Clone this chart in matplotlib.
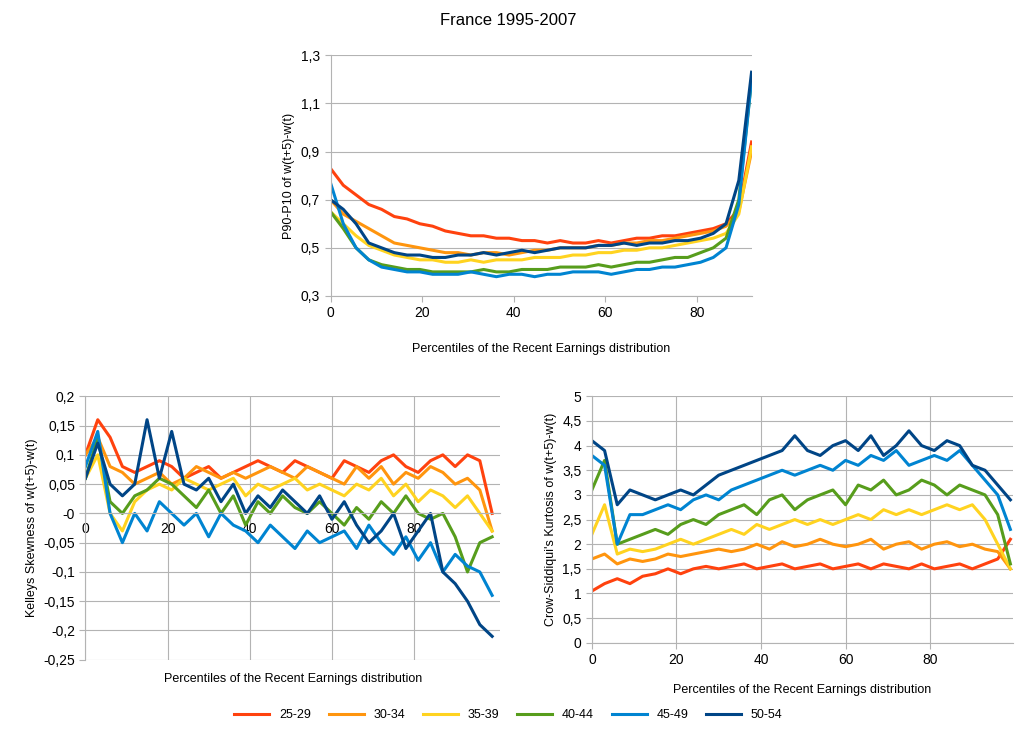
import matplotlib.pyplot as plt
import numpy as np
from matplotlib.ticker import FuncFormatter

plt.rcParams['font.family'] = ['Liberation Sans', 'DejaVu Sans']

groups = ['25-29', '30-34', '35-39', '40-44', '45-49', '50-54']
colors = ['#ff420e', '#ff950e', '#ffd320', '#579d1c', '#0084d1', '#004586']

# top panel: P90-P10 (34 sampled percentiles)
p9010 = [
    [0.83, 0.76, 0.72, 0.68, 0.66, 0.63, 0.62, 0.60, 0.59, 0.57, 0.56, 0.55, 0.55, 0.54, 0.54, 0.53, 0.53, 0.52, 0.53, 0.52, 0.52, 0.53, 0.52, 0.53, 0.54, 0.54, 0.55, 0.55, 0.56, 0.57, 0.58, 0.60, 0.66, 0.94],
    [0.70, 0.64, 0.61, 0.58, 0.55, 0.52, 0.51, 0.50, 0.49, 0.48, 0.48, 0.47, 0.48, 0.48, 0.47, 0.48, 0.49, 0.49, 0.50, 0.50, 0.50, 0.51, 0.51, 0.52, 0.52, 0.53, 0.53, 0.54, 0.55, 0.56, 0.57, 0.59, 0.65, 0.90],
    [0.65, 0.60, 0.55, 0.51, 0.49, 0.47, 0.46, 0.45, 0.45, 0.44, 0.44, 0.45, 0.44, 0.45, 0.45, 0.45, 0.46, 0.46, 0.46, 0.47, 0.47, 0.48, 0.48, 0.49, 0.49, 0.50, 0.50, 0.51, 0.52, 0.53, 0.54, 0.56, 0.64, 0.92],
    [0.65, 0.58, 0.50, 0.45, 0.43, 0.42, 0.41, 0.41, 0.40, 0.40, 0.40, 0.40, 0.41, 0.40, 0.40, 0.41, 0.41, 0.41, 0.42, 0.42, 0.42, 0.43, 0.42, 0.43, 0.44, 0.44, 0.45, 0.46, 0.46, 0.48, 0.50, 0.54, 0.70, 1.20],
    [0.77, 0.60, 0.50, 0.45, 0.42, 0.41, 0.40, 0.40, 0.39, 0.39, 0.39, 0.40, 0.39, 0.38, 0.39, 0.39, 0.38, 0.39, 0.39, 0.40, 0.40, 0.40, 0.39, 0.40, 0.41, 0.41, 0.42, 0.42, 0.43, 0.44, 0.46, 0.50, 0.68, 1.20],
    [0.70, 0.66, 0.60, 0.52, 0.50, 0.48, 0.47, 0.47, 0.46, 0.46, 0.47, 0.47, 0.48, 0.47, 0.48, 0.49, 0.48, 0.49, 0.50, 0.50, 0.50, 0.51, 0.51, 0.52, 0.51, 0.52, 0.52, 0.53, 0.53, 0.54, 0.56, 0.60, 0.78, 1.23],
]

# bottom-left: Kelley's skewness
kelley = [
    [0.10, 0.16, 0.13, 0.08, 0.07, 0.08, 0.09, 0.08, 0.06, 0.07, 0.08, 0.06, 0.07, 0.08, 0.09, 0.08, 0.07, 0.09, 0.08, 0.07, 0.06, 0.09, 0.08, 0.07, 0.09, 0.10, 0.08, 0.07, 0.09, 0.10, 0.08, 0.10, 0.09, 0.00],
    [0.10, 0.13, 0.08, 0.07, 0.05, 0.06, 0.07, 0.05, 0.06, 0.08, 0.07, 0.06, 0.07, 0.06, 0.07, 0.08, 0.07, 0.06, 0.08, 0.07, 0.06, 0.05, 0.08, 0.06, 0.08, 0.05, 0.07, 0.06, 0.08, 0.07, 0.05, 0.06, 0.04, -0.03],
    [0.06, 0.10, 0.00, -0.03, 0.02, 0.04, 0.05, 0.04, 0.06, 0.05, 0.04, 0.05, 0.06, 0.03, 0.05, 0.04, 0.05, 0.06, 0.04, 0.05, 0.04, 0.03, 0.05, 0.04, 0.06, 0.03, 0.05, 0.02, 0.04, 0.03, 0.01, 0.03, 0.00, -0.03],
    [0.06, 0.13, 0.02, 0.00, 0.03, 0.04, 0.06, 0.05, 0.03, 0.01, 0.04, 0.00, 0.03, -0.02, 0.02, 0.00, 0.03, 0.01, 0.00, 0.02, 0.00, -0.02, 0.01, -0.01, 0.02, 0.00, 0.03, 0.00, -0.01, 0.00, -0.04, -0.10, -0.05, -0.04],
    [0.08, 0.14, 0.00, -0.05, 0.00, -0.03, 0.02, 0.00, -0.02, 0.00, -0.04, 0.00, -0.02, -0.03, -0.05, -0.02, -0.04, -0.06, -0.03, -0.05, -0.04, -0.03, -0.06, -0.02, -0.05, -0.07, -0.04, -0.08, -0.05, -0.10, -0.07, -0.09, -0.10, -0.14],
    [0.06, 0.12, 0.05, 0.03, 0.05, 0.16, 0.06, 0.14, 0.05, 0.04, 0.06, 0.02, 0.05, 0.00, 0.03, 0.01, 0.04, 0.02, 0.00, 0.03, -0.01, 0.02, -0.02, -0.05, -0.03, 0.00, -0.06, -0.03, 0.00, -0.10, -0.12, -0.15, -0.19, -0.21],
]

# bottom-right: Crow-Siddiqui kurtosis
kurt = [
    [1.05, 1.2, 1.3, 1.2, 1.35, 1.4, 1.5, 1.4, 1.5, 1.55, 1.5, 1.55, 1.6, 1.5, 1.55, 1.6, 1.5, 1.55, 1.6, 1.5, 1.55, 1.6, 1.5, 1.6, 1.55, 1.5, 1.6, 1.5, 1.55, 1.6, 1.5, 1.6, 1.7, 2.1],
    [1.7, 1.8, 1.6, 1.7, 1.65, 1.7, 1.8, 1.75, 1.8, 1.85, 1.9, 1.85, 1.9, 2.0, 1.9, 2.05, 1.95, 2.0, 2.1, 2.0, 1.95, 2.0, 2.1, 1.9, 2.0, 2.05, 1.9, 2.0, 2.05, 1.95, 2.0, 1.9, 1.85, 1.5],
    [2.2, 2.8, 1.8, 1.9, 1.85, 1.9, 2.0, 2.1, 2.0, 2.1, 2.2, 2.3, 2.2, 2.4, 2.3, 2.4, 2.5, 2.4, 2.5, 2.4, 2.5, 2.6, 2.5, 2.7, 2.6, 2.7, 2.6, 2.7, 2.8, 2.7, 2.8, 2.5, 2.0, 1.5],
    [3.1, 3.7, 2.0, 2.1, 2.2, 2.3, 2.2, 2.4, 2.5, 2.4, 2.6, 2.7, 2.8, 2.6, 2.9, 3.0, 2.7, 2.9, 3.0, 3.1, 2.8, 3.2, 3.1, 3.3, 3.0, 3.1, 3.3, 3.2, 3.0, 3.2, 3.1, 3.0, 2.6, 1.6],
    [3.8, 3.6, 2.0, 2.6, 2.6, 2.7, 2.8, 2.7, 2.9, 3.0, 2.9, 3.1, 3.2, 3.3, 3.4, 3.5, 3.4, 3.5, 3.6, 3.5, 3.7, 3.6, 3.8, 3.7, 3.9, 3.6, 3.7, 3.8, 3.7, 3.9, 3.6, 3.3, 3.0, 2.3],
    [4.1, 3.9, 2.8, 3.1, 3.0, 2.9, 3.0, 3.1, 3.0, 3.2, 3.4, 3.5, 3.6, 3.7, 3.8, 3.9, 4.2, 3.9, 3.8, 4.0, 4.1, 3.9, 4.2, 3.8, 4.0, 4.3, 4.0, 3.9, 4.1, 4.0, 3.6, 3.5, 3.2, 2.9],
]

x_top = np.linspace(0, 92, 34)
x_bot = np.arange(0, 100, 3)

comma = FuncFormatter(lambda v, p: ('%g' % round(v, 3)).replace('.', ','))
xlabel = 'Percentiles of the Recent Earnings distribution'
FS = 9

fig = plt.figure(figsize=(10.17, 7.38), dpi=100)
fig.text(0.5, 0.972, 'France 1995-2007', ha='center', va='center', fontsize=12)


def style(ax, ylim, ystep, xmax, ylabel):
    ax.set_ylim(*ylim)
    ax.set_xlim(0, xmax)
    ax.set_yticks(np.arange(ylim[0], ylim[1] + ystep / 2, ystep))
    ax.set_xticks([0, 20, 40, 60, 80])
    ax.yaxis.set_major_formatter(comma)
    ax.grid(axis='y', color='#b3b3b3', lw=0.8)
    ax.set_axisbelow(True)
    for s in ['top', 'right']:
        ax.spines[s].set_visible(False)
    for s in ['left', 'bottom']:
        ax.spines[s].set_color('#b3b3b3')
    ax.tick_params(length=4, color='#b3b3b3', labelsize=FS + 1)
    ax.set_ylabel(ylabel, fontsize=FS)


ax1 = fig.add_axes([0.325, 0.599, 0.414, 0.326])
for ys, c in zip(p9010, colors):
    ax1.plot(x_top, ys, color=c, lw=2.2)
style(ax1, (0.3, 1.3), 0.2, 92, 'P90-P10 of w(t+5)-w(t)')
ax1.set_xlabel(xlabel, fontsize=FS, labelpad=16)

ax2 = fig.add_axes([0.084, 0.106, 0.408, 0.357])
for ys, c in zip(kelley, colors):
    ax2.plot(x_bot, ys, color=c, lw=2.2)
style(ax2, (-0.25, 0.2), 0.05, 101, "Kelleys Skewness of w(t+5)-w(t)")
ax2.grid(axis='x', color='#b3b3b3', lw=0.8)
ax2.spines['bottom'].set_position(('data', 0))
ax2.tick_params(axis='x', pad=2)
ax2.text(0.5, -0.085, xlabel, transform=ax2.transAxes, ha='center', fontsize=FS)

ax3 = fig.add_axes([0.582, 0.129, 0.414, 0.334])
lines = []
for ys, c in zip(kurt, colors):
    lines += ax3.plot(x_bot, ys, color=c, lw=2.2)
style(ax3, (0, 5), 0.5, 99.6, "Crow-Siddiqui's Kurtosis of w(t+5)-w(t)")
ax3.grid(axis='x', color='#b3b3b3', lw=0.8)
ax3.set_xlabel(xlabel, fontsize=FS, labelpad=12)

fig.legend(lines, groups, loc='center', bbox_to_anchor=(0.5, 0.031), ncol=6,
           frameon=False, fontsize=FS, handlelength=2.8, columnspacing=1.4)

fig.savefig('out.png', dpi=100)
